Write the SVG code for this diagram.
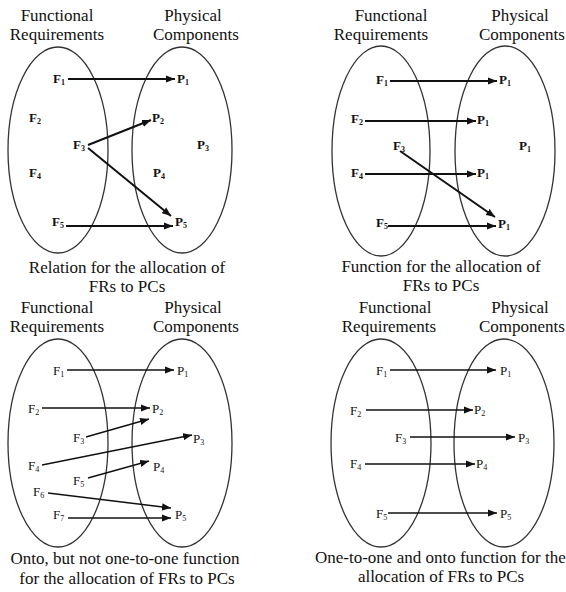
<svg xmlns="http://www.w3.org/2000/svg" width="566" height="592" viewBox="0 0 566 592" font-family="'Liberation Serif', 'Times New Roman', serif">
<style>
.bg{fill:#fff}
.set{fill:none;stroke:#333;stroke-width:1.3}
text{font-family:'Liberation Serif', serif}
.hd{font-size:17px;fill:#111;text-anchor:middle}
.cap{font-size:17px;fill:#111;text-anchor:middle}
.lb{font-size:13px;fill:#111}
.lbb{font-weight:bold}
.sub{font-size:8px}
.c1{fill:none;stroke:#111;stroke-width:2;marker-end:url(#ah)}
.c2{fill:none;stroke:#111;stroke-width:1.4;marker-end:url(#ah)}
</style>
<defs>
<marker id="ah" viewBox="0 0 10 8" refX="10" refY="4" markerWidth="9" markerHeight="7.5" markerUnits="userSpaceOnUse" orient="auto">
<path d="M0,0 L10,4 L0,8 z" fill="#111"/>
</marker>
</defs>
<rect class="bg" x="0" y="0" width="566" height="592"/>

<!-- Panel 1 -->
<g id="panel1">
<text class="hd" x="57" y="21">Functional</text>
<text class="hd" x="57" y="40">Requirements</text>
<text class="hd" x="193" y="21">Physical</text>
<text class="hd" x="196" y="40">Components</text>
<g id="p1-fr"><ellipse class="set" cx="58" cy="150" rx="50" ry="103"/></g>
<g id="p1-pc"><ellipse class="set" cx="182" cy="150" rx="50" ry="103"/></g>
<g id="p1-F1"><text class="lb lbb" x="53" y="83">F<tspan class="sub" dy="2">1</tspan></text></g>
<g id="p1-F2"><text class="lb lbb" x="29" y="122">F<tspan class="sub" dy="2">2</tspan></text></g>
<g id="p1-F3"><text class="lb lbb" x="73" y="149">F<tspan class="sub" dy="2">3</tspan></text></g>
<g id="p1-F4"><text class="lb lbb" x="29" y="177">F<tspan class="sub" dy="2">4</tspan></text></g>
<g id="p1-F5"><text class="lb lbb" x="52" y="226">F<tspan class="sub" dy="2">5</tspan></text></g>
<g id="p1-P1"><text class="lb lbb" x="177" y="83">P<tspan class="sub" dy="2">1</tspan></text></g>
<g id="p1-P2"><text class="lb lbb" x="152" y="122">P<tspan class="sub" dy="2">2</tspan></text></g>
<g id="p1-P3"><text class="lb lbb" x="197" y="149">P<tspan class="sub" dy="2">3</tspan></text></g>
<g id="p1-P4"><text class="lb lbb" x="153" y="177">P<tspan class="sub" dy="2">4</tspan></text></g>
<g id="p1-P5"><text class="lb lbb" x="175" y="226">P<tspan class="sub" dy="2">5</tspan></text></g>
<text class="cap" x="127" y="273">Relation for the allocation of</text>
<text class="cap" x="127" y="292">FRs to PCs</text>
</g>

<!-- Panel 2 -->
<g id="panel2">
<text class="hd" x="391" y="21">Functional</text>
<text class="hd" x="381" y="40">Requirements</text>
<text class="hd" x="520" y="21">Physical</text>
<text class="hd" x="522" y="40">Components</text>
<g id="p2-fr"><ellipse class="set" cx="381" cy="151" rx="49" ry="105"/></g>
<g id="p2-pc"><ellipse class="set" cx="505" cy="151" rx="50" ry="105"/></g>
<g id="p2-F1"><text class="lb lbb" x="376" y="84">F<tspan class="sub" dy="2">1</tspan></text></g>
<g id="p2-F2"><text class="lb lbb" x="351" y="123">F<tspan class="sub" dy="2">2</tspan></text></g>
<g id="p2-F3"><text class="lb lbb" x="393" y="150">F<tspan class="sub" dy="2">3</tspan></text></g>
<g id="p2-F4"><text class="lb lbb" x="351" y="177">F<tspan class="sub" dy="2">4</tspan></text></g>
<g id="p2-F5"><text class="lb lbb" x="376" y="227">F<tspan class="sub" dy="2">5</tspan></text></g>
<g id="p2-Pa"><text class="lb lbb" x="499" y="84">P<tspan class="sub" dy="2">1</tspan></text></g>
<g id="p2-Pb"><text class="lb lbb" x="477" y="124">P<tspan class="sub" dy="2">1</tspan></text></g>
<g id="p2-Pc"><text class="lb lbb" x="519" y="150">P<tspan class="sub" dy="2">1</tspan></text></g>
<g id="p2-Pd"><text class="lb lbb" x="477" y="177">P<tspan class="sub" dy="2">1</tspan></text></g>
<g id="p2-Pe"><text class="lb lbb" x="498" y="228">P<tspan class="sub" dy="2">1</tspan></text></g>
<text class="cap" x="441" y="272">Function for the allocation of</text>
<text class="cap" x="441" y="291">FRs to PCs</text>
</g>

<!-- Panel 3 -->
<g id="panel3">
<text class="hd" x="57" y="313">Functional</text>
<text class="hd" x="57" y="332">Requirements</text>
<text class="hd" x="193" y="313">Physical</text>
<text class="hd" x="196" y="332">Components</text>
<g id="p3-fr"><ellipse class="set" cx="58" cy="443" rx="50" ry="104"/></g>
<g id="p3-pc"><ellipse class="set" cx="182" cy="443" rx="50" ry="104"/></g>
<g id="p3-F1"><text class="lb" x="53" y="375">F<tspan class="sub" dy="2">1</tspan></text></g>
<g id="p3-F2"><text class="lb" x="28" y="413">F<tspan class="sub" dy="2">2</tspan></text></g>
<g id="p3-F3"><text class="lb" x="73" y="442">F<tspan class="sub" dy="2">3</tspan></text></g>
<g id="p3-F4"><text class="lb" x="28" y="470">F<tspan class="sub" dy="2">4</tspan></text></g>
<g id="p3-F5"><text class="lb" x="73" y="485">F<tspan class="sub" dy="2">5</tspan></text></g>
<g id="p3-F6"><text class="lb" x="33" y="496">F<tspan class="sub" dy="2">6</tspan></text></g>
<g id="p3-F7"><text class="lb" x="53" y="519">F<tspan class="sub" dy="2">7</tspan></text></g>
<g id="p3-P1"><text class="lb" x="177" y="375">P<tspan class="sub" dy="2">1</tspan></text></g>
<g id="p3-P2"><text class="lb" x="152" y="413">P<tspan class="sub" dy="2">2</tspan></text></g>
<g id="p3-P3"><text class="lb" x="193" y="443">P<tspan class="sub" dy="2">3</tspan></text></g>
<g id="p3-P4"><text class="lb" x="153" y="471">P<tspan class="sub" dy="2">4</tspan></text></g>
<g id="p3-P5"><text class="lb" x="175" y="519">P<tspan class="sub" dy="2">5</tspan></text></g>
<text class="cap" x="125" y="564">Onto, but not one-to-one function</text>
<text class="cap" x="127" y="584">for the allocation of FRs to PCs</text>
</g>

<!-- Panel 4 -->
<g id="panel4">
<text class="hd" x="395" y="313">Functional</text>
<text class="hd" x="389" y="332">Requirements</text>
<text class="hd" x="520" y="313">Physical</text>
<text class="hd" x="522" y="332">Components</text>
<g id="p4-fr"><ellipse class="set" cx="381" cy="443" rx="50" ry="104"/></g>
<g id="p4-pc"><ellipse class="set" cx="504" cy="443" rx="50" ry="104"/></g>
<g id="p4-F1"><text class="lb" x="376" y="375">F<tspan class="sub" dy="2">1</tspan></text></g>
<g id="p4-F2"><text class="lb" x="350" y="415">F<tspan class="sub" dy="2">2</tspan></text></g>
<g id="p4-F3"><text class="lb" x="395" y="442">F<tspan class="sub" dy="2">3</tspan></text></g>
<g id="p4-F4"><text class="lb" x="350" y="468">F<tspan class="sub" dy="2">4</tspan></text></g>
<g id="p4-F5"><text class="lb" x="376" y="518">F<tspan class="sub" dy="2">5</tspan></text></g>
<g id="p4-P1"><text class="lb" x="500" y="375">P<tspan class="sub" dy="2">1</tspan></text></g>
<g id="p4-P2"><text class="lb" x="474" y="414">P<tspan class="sub" dy="2">2</tspan></text></g>
<g id="p4-P3"><text class="lb" x="518" y="442">P<tspan class="sub" dy="2">3</tspan></text></g>
<g id="p4-P4"><text class="lb" x="476" y="468">P<tspan class="sub" dy="2">4</tspan></text></g>
<g id="p4-P5"><text class="lb" x="500" y="518">P<tspan class="sub" dy="2">5</tspan></text></g>
<text class="cap" x="315" y="563" style="text-anchor:start">One-to-one and onto function for the</text>
<text class="cap" x="441" y="582">allocation of FRs to PCs</text>
</g>

<g id="connectors">
<!-- panel 1 -->
<line class="c1" x1="68" y1="79" x2="175" y2="79"/>
<line class="c1" x1="88" y1="145" x2="151" y2="120"/>
<line class="c1" x1="88" y1="148" x2="171" y2="216"/>
<line class="c1" x1="66" y1="226" x2="173" y2="226"/>
<!-- panel 2 -->
<line class="c1" x1="390" y1="81" x2="497" y2="81"/>
<line class="c1" x1="365" y1="121" x2="476" y2="121"/>
<line class="c1" x1="400" y1="151" x2="495" y2="217"/>
<line class="c1" x1="365" y1="174" x2="476" y2="174"/>
<line class="c1" x1="388" y1="226" x2="496" y2="226"/>
<!-- panel 3 -->
<line class="c2" x1="67" y1="370" x2="174" y2="370"/>
<line class="c2" x1="42" y1="408" x2="150" y2="408"/>
<line class="c2" x1="86" y1="437" x2="149" y2="419"/>
<line class="c2" x1="42" y1="465" x2="192" y2="435"/>
<line class="c2" x1="88" y1="478" x2="149" y2="461"/>
<line class="c2" x1="48" y1="493" x2="171" y2="508"/>
<line class="c2" x1="68" y1="518" x2="171" y2="518"/>
<!-- panel 4 -->
<line class="c2" x1="390" y1="370" x2="496" y2="370"/>
<line class="c2" x1="366" y1="410" x2="473" y2="410"/>
<line class="c2" x1="410" y1="437" x2="515" y2="437"/>
<line class="c2" x1="365" y1="464" x2="475" y2="464"/>
<line class="c2" x1="388" y1="513" x2="497" y2="513"/>
</g>
</svg>
